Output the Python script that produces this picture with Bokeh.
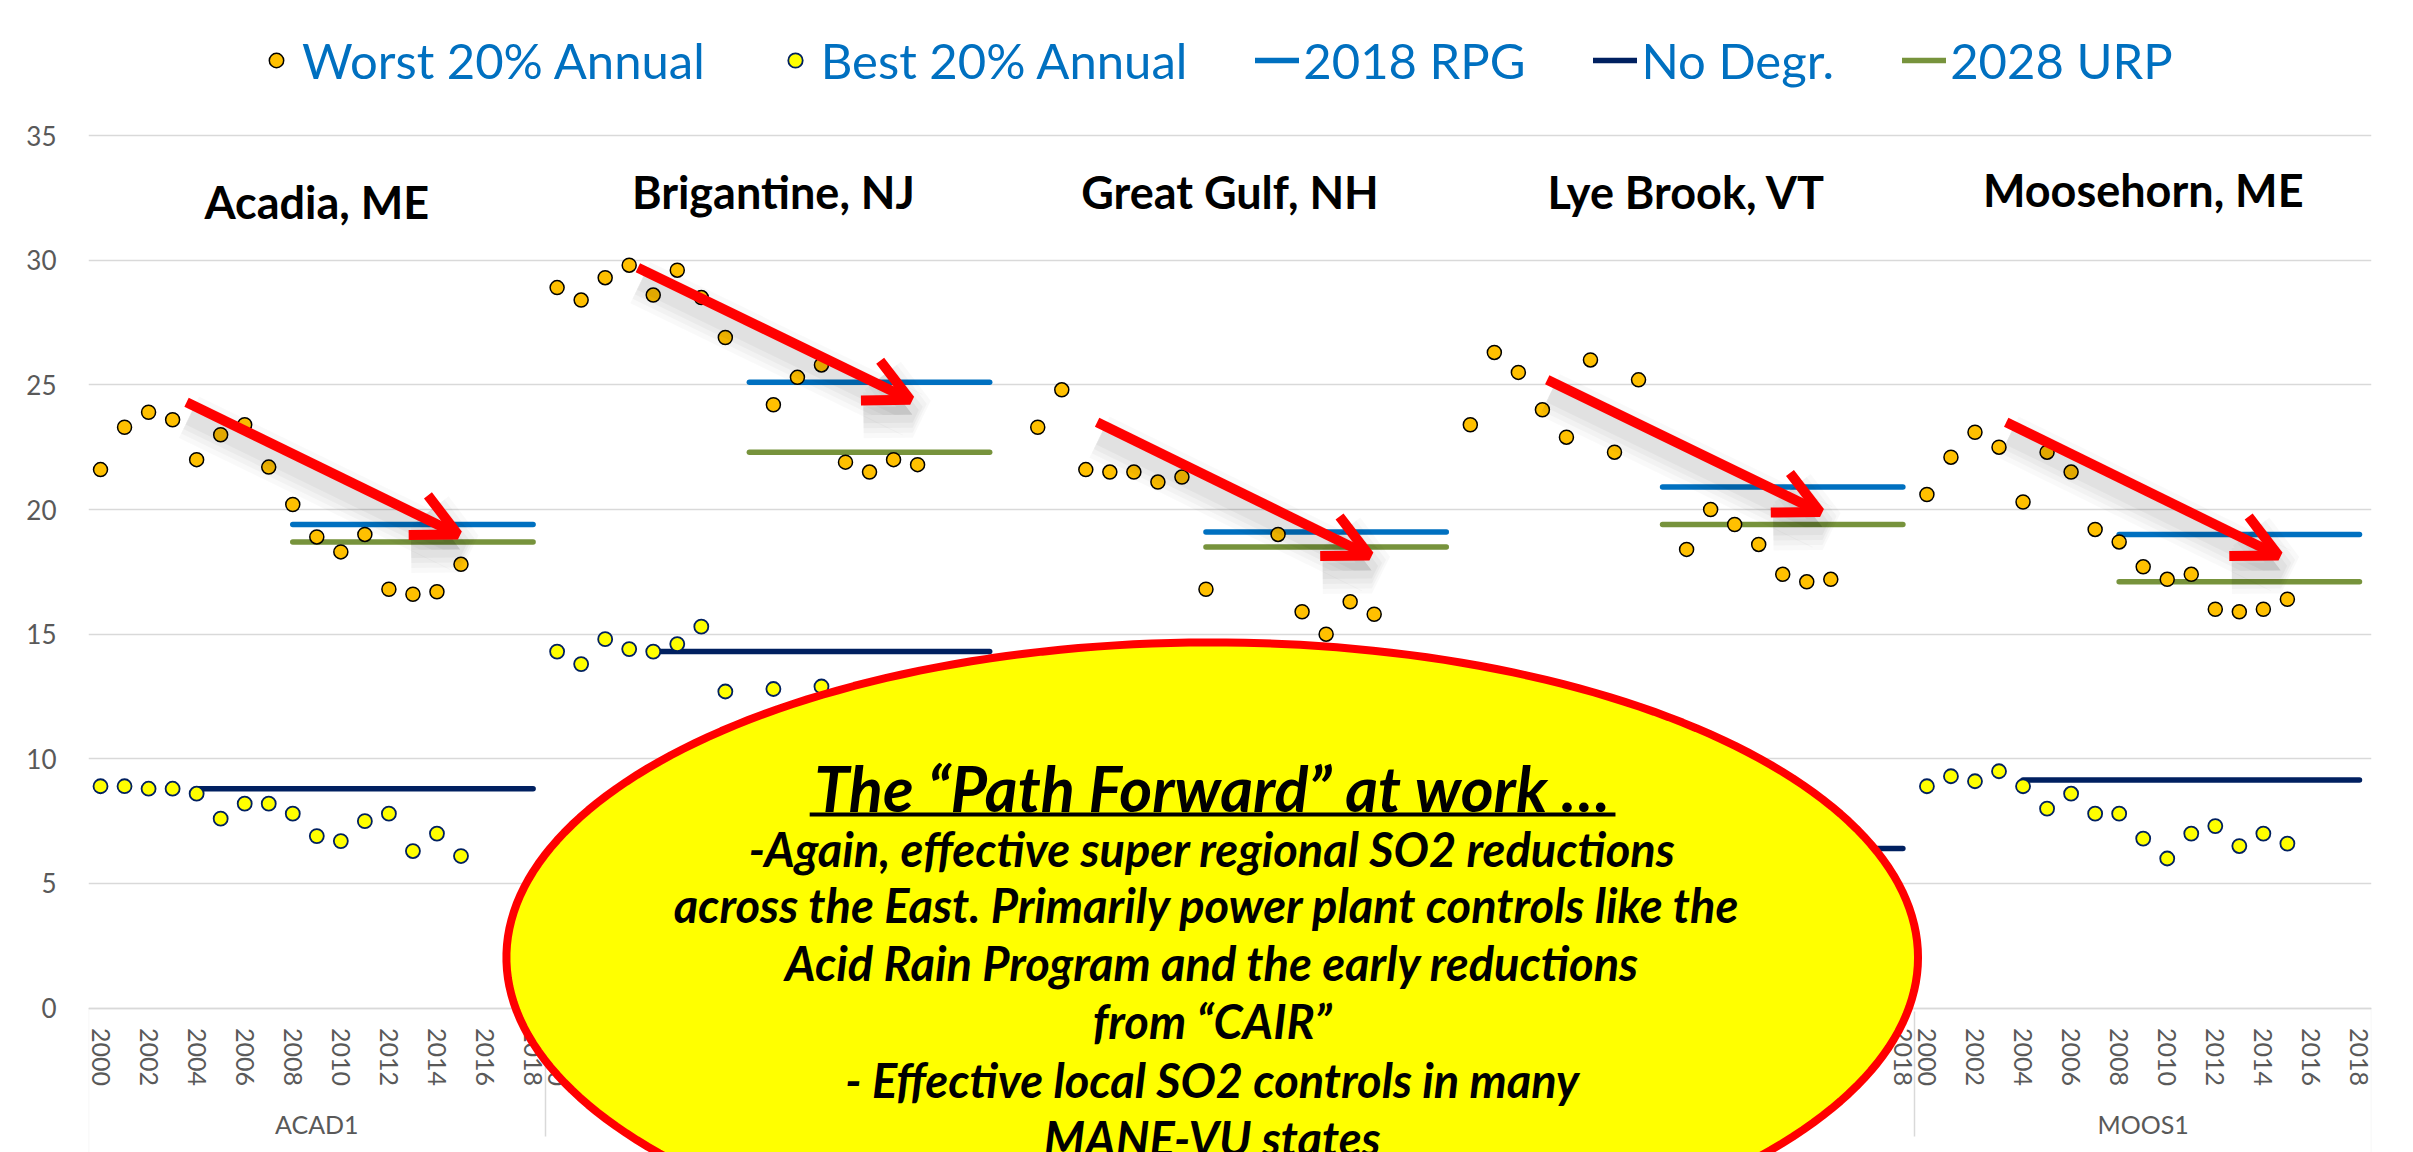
import numpy as np
from bokeh.plotting import figure
from bokeh.models import (FactorRange, Range1d, FixedTicker, ColumnDataSource, Legend, LegendItem,
                          PolyAnnotation, Label, Arrow, OpenHead, BoxAnnotation, CustomJSTickFormatter)
from bokeh.embed import file_html
from bokeh.resources import INLINE

# ---------------- data ----------------
sites = ["ACAD1", "BRIG1", "GRGU1", "LYEB1", "MOOS1"]
site_titles = ["Acadia, ME", "Brigantine, NJ", "Great Gulf, NH", "Lye Brook, VT", "Moosehorn, ME"]
years = ["2000", "2001", "2002", "2003", "2004", "2005", "2006", "2007", "2008", "2009",
         "2010", "2011", "2012", "2013", "2014", "2015", "2016", "2017", "2018"]
obs_years = ["2000", "2001", "2002", "2003", "2004", "2005", "2006", "2007",
             "2008", "2009", "2010", "2011", "2012", "2013", "2014", "2015"]

# Worst 20% annual (dv), 2000-2015 (None = no value)
worst_acad = [21.6, 23.3, 23.9, 23.6, 22.0, 23.0, 23.4, 21.7, 20.2, 18.9, 18.3, 19.0, 16.8, 16.6, 16.7, 17.8]
worst_brig = [28.9, 28.4, 29.3, 29.8, 28.6, 29.6, 28.5, 26.9, None, 24.2, 25.3, 25.8, 21.9, 21.5, 22.0, 21.8]
worst_grgu = [None, 23.3, 24.8, 21.6, 21.5, 21.5, 21.1, 21.3, 16.8, None, None, 19.0, 15.9, 15.0, 16.3, 15.8]
worst_lyeb = [23.4, 26.3, 25.5, 24.0, 22.9, 26.0, 22.3, 25.2, None, 18.4, 20.0, 19.4, 18.6, 17.4, 17.1, 17.2]
worst_moos = [20.6, 22.1, 23.1, 22.5, 20.3, 22.3, 21.5, 19.2, 18.7, 17.7, 17.2, 17.4, 16.0, 15.9, 16.0, 16.4]

# Best 20% annual (dv), 2000-2015 (values behind the callout are rough estimates)
best_acad = [8.9, 8.9, 8.8, 8.8, 8.6, 7.6, 8.2, 8.2, 7.8, 6.9, 6.7, 7.5, 7.8, 6.3, 7.0, 6.1]
best_brig = [14.3, 13.8, 14.8, 14.4, 14.3, 14.6, 15.3, 12.7, None, 12.8, 11.6, 12.9, 11.9, 11.2, 11.5, 10.8]
best_grgu = [None, 10.2, 10.6, 10.0, 9.8, 9.0, 9.3, 8.9, 8.0, None, None, 7.6, 6.9, 6.2, 6.5, 6.0]
best_lyeb = [6.9, 7.4, 7.0, 6.6, 6.4, 6.8, 6.1, 6.5, None, 5.2, 5.3, 5.0, 4.9, 4.4, 4.6, 4.3]
best_moos = [8.9, 9.3, 9.1, 9.5, 8.9, 8.0, 8.6, 7.8, 7.8, 6.8, 6.0, 7.0, 7.3, 6.5, 7.0, 6.6]

rpg_2018 = [19.4, 25.1, 19.1, 20.9, 19.0]
urp_2028 = [18.7, 22.3, 18.5, 19.4, 17.1]
no_degr = [8.8, 14.3, 7.2, 6.4, 9.15]
goal_start_year = "2008"
nodegr_start_year = "2004"
line_end_year = "2018"

worst_all = [worst_acad, worst_brig, worst_grgu, worst_lyeb, worst_moos]
best_all = [best_acad, best_brig, best_grgu, best_lyeb, best_moos]
y_ticks = [0, 5, 10, 15, 20, 25, 30, 35]

# ---------------- colours / fonts ----------------
C_WORST, C_BEST = "#FFC000", "#FFFF00"
C_RPG, C_ND, C_URP = "#0070C0", "#002060", "#77933C"
GRAY_TXT, GRID = "#595959", "#D9D9D9"
FONT = "Lato"

factors = [(s, y) for s in sites for y in years]
n_years = len(years)

# frame covers the whole canvas height; 0..35 sits where the reference has it
Y_MIN, Y_MAX = -5.792, 40.417
p = figure(x_range=FactorRange(factors=factors, group_padding=0, factor_padding=0, range_padding=0),
           y_range=Range1d(Y_MIN, Y_MAX), width=2413, height=1152,
           output_backend="svg", toolbar_location=None,
           min_border_left=88, min_border_right=42, min_border_top=0, min_border_bottom=0)
p.outline_line_color = None
p.background_fill_color = "white"
p.border_fill_color = "white"

# grid / axes
p.xgrid.grid_line_color = None
p.ygrid.grid_line_color = GRID
p.ygrid.grid_line_width = 1.5
p.yaxis.ticker = FixedTicker(ticks=y_ticks)
p.ygrid.ticker = FixedTicker(ticks=y_ticks)
p.yaxis.axis_line_color = None
p.yaxis.major_tick_line_color = None
p.yaxis.minor_tick_line_color = None
p.yaxis.major_tick_out = 0
p.yaxis.major_label_standoff = 32
p.yaxis.major_label_text_font = FONT
p.yaxis.major_label_text_font_size = "26px"
p.yaxis.major_label_text_color = GRAY_TXT

xa = p.xaxis[0]
xa.fixed_location = 0
xa.axis_line_color = GRID
xa.axis_line_width = 1.5
xa.major_tick_line_color = None
xa.minor_tick_line_color = None
xa.major_tick_out = 0
xa.major_label_standoff = 20
xa.major_label_orientation = "vertical"
xa.major_label_text_font = FONT
xa.major_label_text_font_size = "25px"
xa.major_label_text_color = GRAY_TXT
xa.formatter = CustomJSTickFormatter(code="return (Number(tick) % 2 === 1) ? '' : tick;")
xa.group_text_font = FONT
xa.group_text_font_size = "25px"
xa.group_text_color = GRAY_TXT
xa.group_text_font_style = "normal"
xa.separator_line_color = GRID
xa.separator_line_width = 1.5

# outer separators of the category axis (left and right ends)
for xb in (0, len(factors)):
    p.add_layout(BoxAnnotation(left=xb, right=xb, top=0, bottom=Y_MIN - 1, fill_alpha=0,
                               line_color=GRID, line_width=1.5))

# arrow shadows (drawn first)
arrow_start = [(4.08, 24.3), (3.86, 29.7), (3.97, 23.5), (3.70, 25.2), (3.80, 23.5)]
arrow_end = [(15.37, 19.0), (15.19, 24.4), (15.30, 18.15), (15.05, 19.9), (15.13, 18.15)]
for g in range(len(sites)):
    off = g * n_years
    (xs0, ys0), (xs1, ys1) = arrow_start[g], arrow_end[g]
    for w, a in [(46, 0.022), (36, 0.026), (26, 0.03), (16, 0.035)]:
        p.add_layout(Arrow(x_start=off + xs0 + 0.1, y_start=ys0 - 0.6, x_end=off + xs1 + 0.1, y_end=ys1 - 0.6,
                           line_color="black", line_alpha=a, line_width=w,
                           end=OpenHead(size=44, line_color="black", line_alpha=a, line_width=w)))

# goal lines
def seg_source(values, start):
    return ColumnDataSource(dict(x0=[(s, start) for s in sites], x1=[(s, line_end_year) for s in sites],
                                 y=values))

r_nd = p.segment(x0="x0", y0="y", x1="x1", y1="y", source=seg_source(no_degr, nodegr_start_year),
                 line_color=C_ND, line_width=5.5, line_cap="round")
r_rpg = p.segment(x0="x0", y0="y", x1="x1", y1="y", source=seg_source(rpg_2018, goal_start_year),
                  line_color=C_RPG, line_width=5.5, line_cap="round")
r_urp = p.segment(x0="x0", y0="y", x1="x1", y1="y", source=seg_source(urp_2028, goal_start_year),
                  line_color=C_URP, line_width=5.5, line_cap="round")

def pts(series):
    xs, ys = [], []
    for s, vals in zip(sites, series):
        for yr, v in zip(obs_years, vals):
            if v is not None:
                xs.append((s, yr)); ys.append(v)
    return ColumnDataSource(dict(x=xs, y=ys))

r_best = p.scatter(x="x", y="y", source=pts(best_all), size=14, fill_color=C_BEST,
                   line_color="#002060", line_width=1.8)
r_worst = p.scatter(x="x", y="y", source=pts(worst_all), size=14, fill_color=C_WORST,
                    line_color="black", line_width=1.5)

# red arrows
for g in range(len(sites)):
    off = g * n_years
    (xs0, ys0), (xs1, ys1) = arrow_start[g], arrow_end[g]
    p.add_layout(Arrow(x_start=off + xs0, y_start=ys0, x_end=off + xs1, y_end=ys1,
                       line_color="#FF0000", line_width=10,
                       end=OpenHead(size=44, line_color="#FF0000", line_width=10)))

# site titles
title_y = [32.34, 32.72, 32.72, 32.72, 32.82]
for g, t in enumerate(site_titles):
    p.add_layout(Label(x=g * n_years + n_years / 2, y=title_y[g], text=t, text_align="center",
                       text_baseline="middle", text_font=FONT, text_font_style="bold",
                       text_font_size="45px", text_color="black"))

# callout ellipse
cx, cy, ea, eb = 46.76, 2.03, 29.37, 12.64
t = np.linspace(0, 2 * np.pi, 240)
p.add_layout(PolyAnnotation(xs=list(cx + ea * np.cos(t)), ys=list(cy + eb * np.sin(t)),
                            fill_color="#FFFF00", fill_alpha=1.0, line_color="#FF0000",
                            line_width=8, line_alpha=1.0))

callout_title = "The “Path Forward” at work …"
callout_lines = ["-Again, effective super regional SO2 reductions",
                 "across the East.  Primarily power plant controls like the",
                 "Acid Rain Program and the early reductions",
                 "from “CAIR”",
                 "- Effective local SO2 controls in many",
                 "MANE-VU states"]
p.add_layout(Label(x=cx, y=8.86, text=callout_title, text_align="center", text_baseline="middle",
                   text_font=FONT, text_font_style="bold italic", text_font_size="63px", text_color="black"))
p.add_layout(BoxAnnotation(left=30.01, right=63.54, bottom=7.69, top=7.85, fill_color="black",
                           fill_alpha=1.0, line_color=None))
line_y = [6.38, 4.13, 1.81, -0.52, -2.87, -5.2]
for txt, yy in zip(callout_lines, line_y):
    p.add_layout(Label(x=cx, y=yy, text=txt, text_align="center", text_baseline="middle",
                       text_font=FONT, text_font_style="bold italic", text_font_size="47px",
                       text_color="black"))

# legend
legend = Legend(items=[LegendItem(label="Worst 20% Annual", renderers=[r_worst]),
                       LegendItem(label="Best 20% Annual", renderers=[r_best]),
                       LegendItem(label="2018 RPG", renderers=[r_rpg]),
                       LegendItem(label="No Degr.", renderers=[r_nd]),
                       LegendItem(label="2028 URP", renderers=[r_urp])],
                location=(166, 1063), orientation="horizontal")
legend.label_text_font = FONT
legend.label_text_font_size = "49px"
legend.label_text_color = "#0070C0"
legend.label_height = 59
legend.glyph_width = 44
legend.glyph_height = 36
legend.label_standoff = 4
legend.spacing = 68
legend.padding = 0
legend.margin = 0
legend.border_line_color = None
legend.background_fill_alpha = 0
p.add_layout(legend)

open("out.html", "w").write(file_html(p, INLINE))
